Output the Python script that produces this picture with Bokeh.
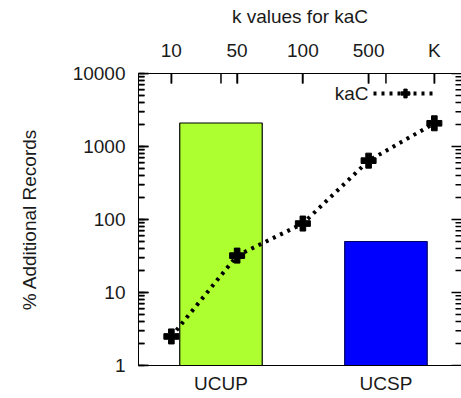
import math
from bokeh.plotting import figure
from bokeh.models import (Range1d, FixedTicker, PrintfTickFormatter, LinearAxis,
                          Legend, LegendItem, Label, ColumnDataSource)
from bokeh.embed import file_html
from bokeh.resources import INLINE

# ---- data ----
bar_labels = ["UCUP", "UCSP"]
bar_values = [2100, 50]
bar_colors = ["#adff2f", "#0000ff"]
bar_edges = ["#000000", "#000060"]

k_labels = ["10", "50", "100", "500", "K"]
kac_values = [2.5, 32, 88, 640, 2080]

y_label = "% Additional Records"
x2_label = "k values for kaC"
series_name = "kaC"

FONT = "Liberation Sans"
FS = "19px"
TXT = "#1a1a1a"

bar_x = [i + 1 for i in range(len(bar_labels))]
k_x = list(range(len(k_labels)))

xr = Range1d(0.5, 2.458)
kr = Range1d(-0.5, 4.413)
yr = Range1d(1, 10000)

p = figure(width=461, height=398, y_axis_type="log", output_backend="svg",
           toolbar_location=None, x_range=xr, y_range=yr,
           min_border_left=138, min_border_top=73, min_border_bottom=33, min_border_right=0)
p.extra_x_ranges = {"k": kr}
p.outline_line_color = None
p.grid.visible = False

src = ColumnDataSource(dict(x=bar_x, top=bar_values, fill=bar_colors, edge=bar_edges))
p.vbar(x="x", top="top", bottom=1, width=0.5, fill_color="fill", line_color="edge",
       line_width=1.2, source=src)

line_r = p.line(k_x, kac_values, x_range_name="k", line_color="black", line_width=4,
                line_dash="3 5")
mark_r = p.scatter(k_x, kac_values, x_range_name="k", marker="plus", size=15,
                   fill_color="black", line_color="black", line_width=1)

# ---- inward tick marks as short screen-length rays from the frame edges ----
decades = [10 ** e for e in range(5)]
minors = [m * 10 ** e for e in range(4) for m in range(2, 10)]
TW = 1.5
for xe, ang in ((xr.start, 0.0), (xr.end, math.pi)):
    p.ray([xe] * len(decades), decades, length=10, length_units="screen", angle=ang,
          line_color="#000000", line_width=TW)
    p.ray([xe] * len(minors), minors, length=6, length_units="screen", angle=ang,
          line_color="#000000", line_width=TW)
p.ray(k_x, [yr.end] * len(k_x), x_range_name="k", length=10, length_units="screen",
      angle=-math.pi / 2, line_color="#000000", line_width=TW)
p.ray(bar_x, [yr.end] * len(bar_x), length=10, length_units="screen",
      angle=-math.pi / 2, line_color="#000000", line_width=TW)

# bottom axis
xa = p.xaxis[0]
xa.ticker = FixedTicker(ticks=bar_x)
xa.major_label_overrides = {x: l for x, l in zip(bar_x, bar_labels)}
xa.major_tick_in = 0
xa.major_tick_out = 0
xa.minor_tick_in = 0
xa.minor_tick_out = 0
xa.major_label_standoff = 7
xa.axis_line_color = "black"

# left axis (ticks pointing inwards)
ya = p.yaxis[0]
ya.formatter = PrintfTickFormatter(format="%d")
ya.major_tick_in = 10
ya.major_tick_out = 0
ya.minor_tick_in = 6
ya.minor_tick_out = 0
ya.major_tick_line_width = TW
ya.minor_tick_line_width = TW
ya.major_label_standoff = 13
ya.axis_label = y_label
ya.axis_label_standoff = 30

# top k axis
ka = LinearAxis(x_range_name="k", ticker=FixedTicker(ticks=k_x),
                major_tick_in=10, major_tick_out=0, minor_tick_in=0, minor_tick_out=0,
                major_tick_line_width=TW,
                major_label_standoff=13, axis_label=x2_label, axis_label_standoff=10,
                axis_line_color="black")
ka.major_label_overrides = {x: l for x, l in zip(k_x, k_labels)}
p.add_layout(ka, "above")

for ax in [xa, ya, ka]:
    ax.major_label_text_font = FONT
    ax.major_label_text_font_size = FS
    ax.major_label_text_color = TXT
    ax.axis_label_text_font = FONT
    ax.axis_label_text_font_size = FS
    ax.axis_label_text_color = TXT
    ax.axis_label_text_font_style = "normal"

legend = Legend(items=[LegendItem(label=series_name, renderers=[line_r, mark_r])],
                location=(235, 261), glyph_width=64, glyph_height=22, padding=0, margin=0,
                spacing=0, label_standoff=0, label_text_font=FONT, label_text_font_size="6px",
                label_text_alpha=0, border_line_color=None, background_fill_alpha=0)
p.add_layout(legend)
p.add_layout(Label(x=230, y=272, x_units="screen", y_units="screen", text=series_name,
                   text_align="right", text_baseline="middle", text_font=FONT,
                   text_font_size=FS, text_color=TXT))

open("out.html", "w").write(file_html(p, INLINE))
